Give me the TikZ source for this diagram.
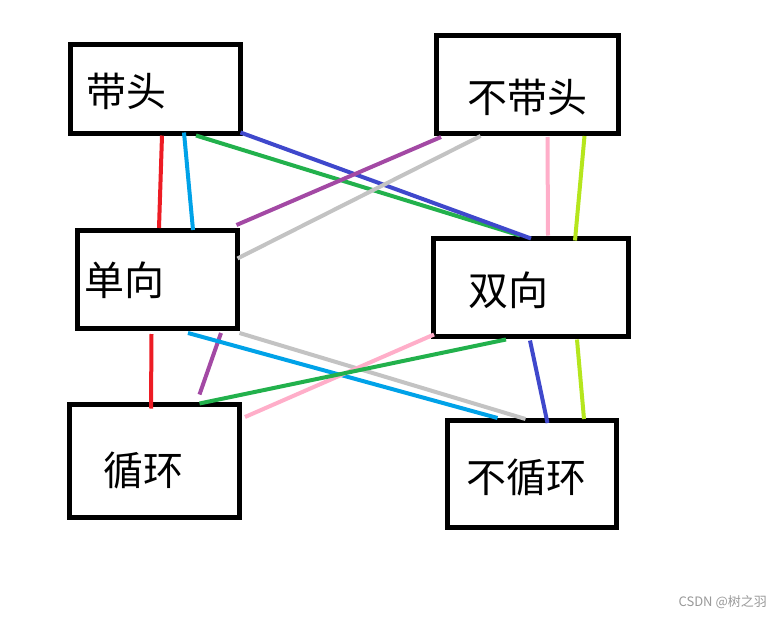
\documentclass[tikz,border=0pt]{standalone}
\usepackage{fontspec}
\newfontfamily\cjk{Noto Sans CJK SC}
\definecolor{wred}{HTML}{ED1C24}
\definecolor{wcyan}{HTML}{00A2E8}
\definecolor{wgreen}{HTML}{22B14C}
\definecolor{windigo}{HTML}{3F48CC}
\definecolor{wpurple}{HTML}{A349A4}
\definecolor{wgray}{HTML}{C3C3C3}
\definecolor{wpink}{HTML}{FFAEC9}
\definecolor{wlime}{HTML}{B5E61D}
\tikzset{
box/.style={draw,line width=5pt,inner sep=0pt},
txt/.style={inner sep=0pt,font=\cjk\fontsize{40}{40}\selectfont},
wire/.style={line width=4pt}
}
\begin{document}
\begin{tikzpicture}[x=1pt,y=-1pt]
\useasboundingbox[fill=white] (0,0) rectangle (781,618);
\node[box,minimum width=170pt,minimum height=88pt] (dt) at (155,89) {};
\node[box,minimum width=182pt,minimum height=98pt] (bdt) at (527.5,84.5) {};
\node[box,minimum width=160pt,minimum height=98pt] (dx) at (157,279.5) {};
\node[box,minimum width=195pt,minimum height=98pt] (sx) at (531,287) {};
\node[box,minimum width=170pt,minimum height=113pt] (xh) at (154.5,460.5) {};
\node[box,minimum width=169pt,minimum height=107pt] (bxh) at (531.5,474) {};
\node[txt] (dtl) at (126,91) {带头};
\node[txt] (bdtl) at (527,97) {不带头};
\node[txt] (dxl) at (124,280) {单向};
\node[txt] (sxl) at (508,290) {双向};
\node[txt] (xhl) at (143,470) {循环};
\node[txt] (bxhl) at (526,477) {不循环};
\draw[wire,wred]([xshift=7pt]dt.south)--([xshift=2pt]dx.north);
\draw[wire,wcyan]([xshift=29pt,yshift=3pt]dt.south)--([xshift=36pt,yshift=-2pt]dx.north);
\draw[wire,wgreen]([xshift=41pt]dt.south)--([xshift=-11pt]sx.north);
\draw[wire,windigo]([xshift=-2pt,yshift=3pt]dt.south east)--([yshift=-3pt]sx.north);
\draw[wire,wpurple]([xshift=7pt,yshift=-1pt]bdt.south west)--([xshift=-3pt,yshift=3pt]dx.north east);
\draw[wire,wgray]([xshift=-47pt]bdt.south)--([xshift=-2pt,yshift=21pt]dx.east);
\draw[wire,wpink]([xshift=20pt,yshift=-1pt]bdt.south)--([xshift=17pt]sx.north);
\draw[wire,wlime]([xshift=57pt]bdt.south)--([xshift=44pt,yshift=-5pt]sx.north);
\draw[wire,wred]([xshift=-5.5pt,yshift=-3pt]dx.south)--([xshift=-3.5pt,yshift=-7pt]xh.north);
\draw[wire,wpurple]([xshift=64pt,yshift=-2pt]dx.south)--([xshift=45pt,yshift=7pt]xh.north);
\draw[wire,wcyan]([xshift=31pt,yshift=-2pt]dx.south)--([xshift=-34pt]bxh.north);
\draw[wire,wgray]([yshift=-2pt]dx.south east)--([xshift=-6pt,yshift=-1pt]bxh.north);
\draw[wire,wpink]([xshift=3pt,yshift=4pt]sx.south west)--([xshift=3pt,yshift=43.5pt]xh.east);
\draw[wire,wgreen]([xshift=-25pt,yshift=-1pt]sx.south)--([xshift=45pt,yshift=-2pt]xh.north);
\draw[wire,windigo]([xshift=-1pt,yshift=-2pt]sx.south)--([xshift=16pt,yshift=-5pt]bxh.north);
\draw[wire,wlime]([xshift=46pt,yshift=-1pt]sx.south)--([xshift=52.5pt,yshift=-1pt]bxh.north);
\node[anchor=east,inner sep=0pt,text=black!40,font=\cjk\fontsize{13}{13}\selectfont] (wm) at (767,602) {CSDN @树之羽};
\end{tikzpicture}
\end{document}
